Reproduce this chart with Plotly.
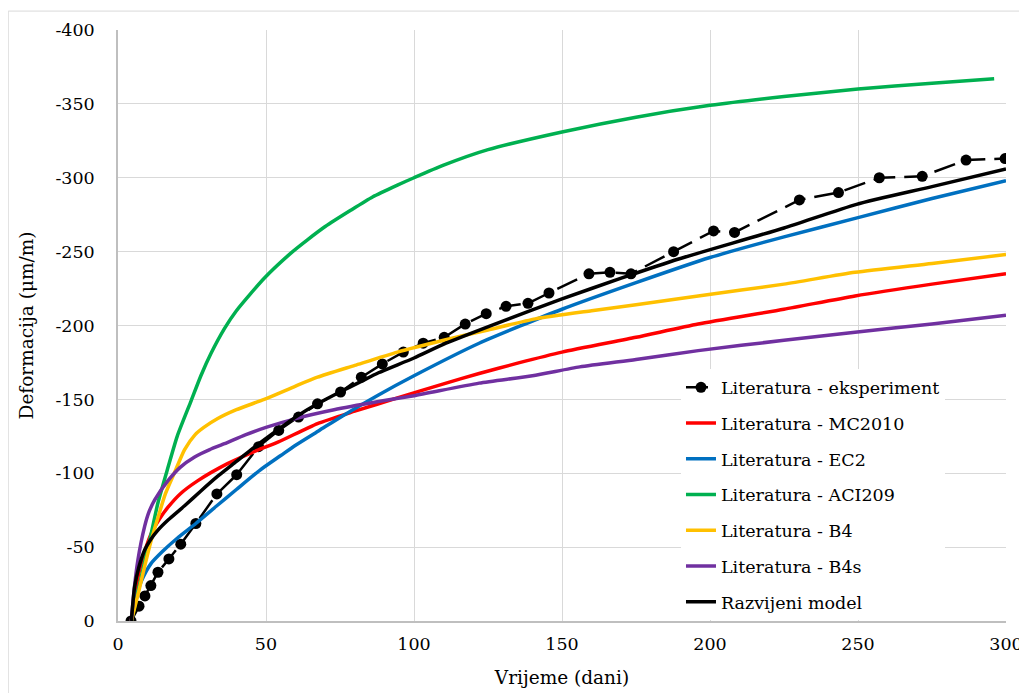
import plotly.graph_objects as go

# experiment (days, micro-strain)
exp_t = [4.4, 7.1, 9.1, 11.1, 13.5, 17.2, 21.2, 26.3, 33.4, 40.1, 47.5, 54.3, 61.0, 67.4,
         75.2, 82.2, 89.3, 96.4, 103.1, 110.2, 117.3, 124.4, 131.1, 138.5, 145.6, 159.1,
         166.2, 173.3, 187.7, 201.2, 208.3, 230.2, 243.4, 257.2, 271.7, 286.5, 299.7]
exp_v = [0, -10, -17, -24, -33, -42, -52, -66, -86, -99, -118, -129, -138, -147,
         -155, -165, -174, -182, -188, -192, -201, -208, -213, -215, -222, -235,
         -236, -235, -250, -264, -263, -285, -290, -300, -301, -312, -313]

mc_t = [4.5, 6, 8, 11.2, 14, 16.9, 21, 27, 37, 47, 54, 67.4, 80, 94.4, 110, 122, 135, 150,
        175, 196, 225, 249, 275, 300]
mc_v = [0, -22, -40, -59, -69, -77, -86, -95, -106.5, -115.5, -121, -133.6, -142, -151,
        -160.5, -167.5, -174.5, -182, -192, -201, -211, -220, -228, -235]

ec_t = [4.5, 6, 7.9, 11.2, 15, 20, 26.3, 33.4, 40, 47.9, 55, 60, 68, 76, 88, 100, 122, 150,
        175, 200, 225, 250, 275, 300]
ec_v = [0, -15, -27, -39, -47, -56, -66, -78, -89, -102, -112, -119, -129, -139, -153,
        -166, -188, -211, -229, -246, -260, -273, -286, -298]

aci_t = [4.5, 7, 9, 11.2, 13.5, 16.9, 20, 24.7, 28, 31.4, 36, 40, 49.4, 58.4, 64, 70, 78.6,
         86, 94.4, 100, 110, 125, 150, 175, 200, 225, 250, 275, 296]
aci_v = [0, -22, -40, -59, -80, -104, -125, -149, -166, -181, -198, -210, -232, -249, -258,
         -267, -278, -287, -295, -300, -308.5, -319, -331, -341, -349, -355, -360, -364, -367]

b4_t = [4.5, 7, 9, 11, 13.5, 16, 19, 22.5, 26, 29, 33.7, 40, 49.4, 60, 67.4, 80, 94.4, 110,
        125, 141, 160, 175, 196, 225, 249, 275, 300]
b4_v = [0, -20, -37, -53, -70, -86, -100, -116, -126, -131, -137, -143, -150, -159, -165,
        -173, -182, -190, -197, -204.5, -210, -214, -220, -228, -236, -242, -248]

b4s_t = [4.5, 5.5, 6.7, 9, 10.5, 12.4, 16.9, 21, 25.9, 31, 36, 43, 50, 60, 73, 88, 100, 122,
         140, 156, 175, 196, 225, 249, 275, 300]
b4s_v = [0, -22, -41, -64, -74, -82, -95, -104, -111, -116, -120, -126, -131, -137, -143,
         -148.5, -152.5, -161, -166, -172, -177, -183, -190, -195.5, -201, -207]

rm_t = [4.5, 5.6, 7, 9, 11, 13.5, 17, 22.5, 28, 33.7, 40, 45, 53, 60, 67.4, 75, 82, 88, 100,
        110.8, 130, 150, 170, 189.4, 225, 249.5, 275, 300]
rm_v = [0, -23, -36, -48, -55, -61.5, -68.5, -78, -88, -98, -108, -116, -128, -138, -147,
        -155, -162, -168, -178, -188, -203, -218, -232, -245, -266, -282, -294, -306]

names = ["Literatura - eksperiment", "Literatura - MC2010", "Literatura - EC2",
         "Literatura - ACI209", "Literatura - B4", "Literatura - B4s", "Razvijeni model"]
colors = ["black", "#FF0000", "#0070C0", "#00B050", "#FFC000", "#7030A0", "black"]

x_ticks = [0, 50, 100, 150, 200, 250, 300]
y_ticks = [0, -50, -100, -150, -200, -250, -300, -350, -400]
y_labels = ["0", "-50", "-100", "-150", "-200", "-250", "-300", "-350", "-400"]

font = "DejaVu Serif"

fig = go.Figure()
fig.add_trace(go.Scatter(x=exp_t, y=exp_v, name=names[0], mode="lines+markers",
                         line=dict(color="black", width=2.5, dash="22px,9px"),
                         marker=dict(size=11, color="black"), legendgroup="g0"))
model_data = [(mc_t, mc_v), (ec_t, ec_v), (aci_t, aci_v), (b4_t, b4_v), (b4s_t, b4s_v), (rm_t, rm_v)]
for i, (t, v) in enumerate(model_data):
    fig.add_trace(go.Scatter(x=t, y=v, name=names[i + 1], mode="lines",
                             line=dict(color=colors[i + 1], width=3.5, shape="spline", smoothing=0.6),
                             legendgroup="g%d" % (i + 1)))

# the page adds an 8px body margin, margins are shifted for it
fig.update_layout(
    width=1027, height=693,
    margin=dict(l=110, r=27, t=21, b=80),
    plot_bgcolor="white", paper_bgcolor="white",
    font=dict(family=font, size=17.5, color="black"),
    legend=dict(x=0.634, y=0.4257, xanchor="left", yanchor="top", bgcolor="white",
                font=dict(family=font, size=17.5), tracegroupgap=10),
    shapes=[dict(type="rect", xref="paper", yref="paper", x0=-0.1236, x1=1.05,
                 y0=-0.2, y1=1.032, line=dict(color="#d9d9d9", width=1), layer="below")]
)
fig.update_xaxes(range=[0, 300], tickvals=x_ticks, showgrid=True, gridcolor="#d9d9d9",
                 showline=True, linecolor="#bfbfbf", linewidth=1.5, zeroline=False,
                 title=dict(text="Vrijeme (dani)", font=dict(family=font, size=18.5), standoff=18),
                 ticks="", tickfont=dict(family=font, size=17.5), ticklabelstandoff=6)
fig.update_yaxes(range=[0, -400], tickvals=y_ticks, ticktext=y_labels, showgrid=True,
                 gridcolor="#d9d9d9", showline=True, linecolor="#bfbfbf", linewidth=1.5,
                 zeroline=False, ticks="", tickfont=dict(family=font, size=17.5), ticklabelstandoff=18,
                 title=dict(text="Deformacija (μm/m)", font=dict(family=font, size=18.5), standoff=17))

fig.write_html("out.html")
